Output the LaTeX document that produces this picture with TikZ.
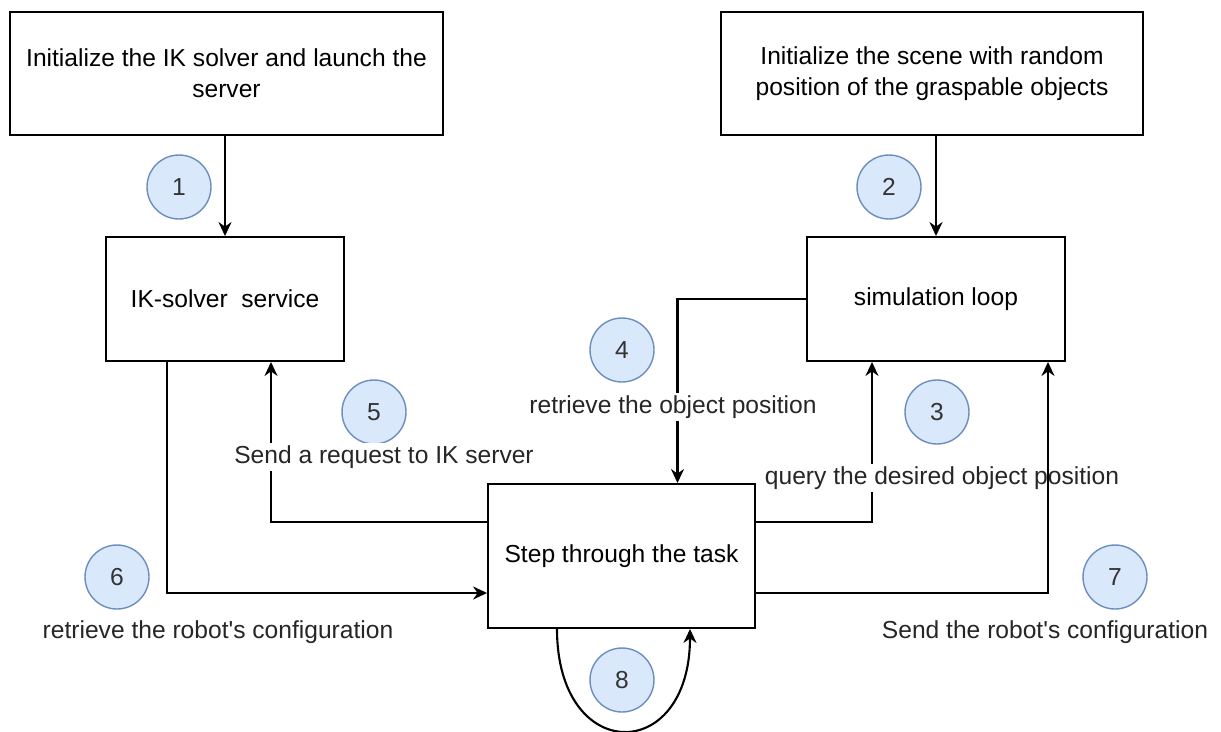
\documentclass[tikz,border=0pt]{standalone}
\usepackage{fontspec}
\setmainfont{Liberation Sans}
\usetikzlibrary{calc,positioning,arrows.meta}

\definecolor{badgefill}{HTML}{DAE8FC}
\definecolor{badgeline}{HTML}{6C8EBF}

\begin{document}
\begin{tikzpicture}[
  x=0.02cm, y=-0.02cm,
  line join=miter,
  >={Stealth[length=2.8mm,width=2.6mm]},
  box/.style={draw=black,line width=1.1pt,fill=white,align=center,
    font=\fontsize{14}{17.5}\selectfont},
  badge/.style={circle,draw=badgeline,fill=badgefill,line width=0.8pt,
    minimum size=1.28cm,inner sep=0pt,text=black!80,
    font=\fontsize{14}{17}\selectfont},
  lbl/.style={fill=white,inner sep=1.5pt,text=black!85,
    font=\fontsize{14}{17}\selectfont},
  flow/.style={draw=black,line width=1.2pt,->}
]
\useasboundingbox (0,0) rectangle (1221,731);

% Boxes
\node[box,minimum width=8.66cm,minimum height=2.46cm] (initik) at (226.5,73.5)
  {Initialize the IK solver and launch the\\server};
\node[box,minimum width=8.44cm,minimum height=2.46cm] (scene) at (932,73.5)
  {Initialize the scene with random\\position of the graspable objects};
\node[box,minimum width=4.76cm,minimum height=2.48cm] (iksrv) at (225,299)
  {IK-solver\ \ service};
\node[box,minimum width=5.16cm,minimum height=2.48cm] (sim) at (936,299)
  {simulation loop};
\node[box,minimum width=5.34cm,minimum height=2.88cm] (step) at (621.5,556)
  {Step through the task};

% Step badges
\foreach \n/\x/\y in {1/179/187,2/889/187,3/937/412,4/622/350,
                      5/374/412,6/117/577,7/1115/577,8/622/680}
  \node[badge] (b\n) at (\x,\y) {\n};

% Connectors
\draw[flow] (iksrv.north |- initik.south) -- (iksrv.north);
\draw[flow] (sim.north |- scene.south) -- (sim.north);
\draw[flow] (sim.west) -| ($(step.north)+(56,0)$);
\draw[flow] ($(step.east)+(0,-34)$) -| ($(sim.south)+(-64,0)$);
\draw[flow] ($(step.west)+(0,-34)$) -| ($(iksrv.south)+(46,0)$);
\draw[flow] ($(iksrv.south)+(-58,0)$) |- ($(step.west)+(0,37)$);
\draw[flow] ($(step.south)+(-64.5,0)$) .. controls +(0,136) and +(0,136) .. ($(step.south)+(68.5,0)$);

% Labels
\node[lbl] (getobj) at (673,407) {retrieve the object position};
\node[lbl] (query) at (942,478) {query the desired object position};
\node[lbl] (request) at (384,457) {Send a request to IK server};
\node[lbl] (getconf) at (218,632) {retrieve the robot\textquotesingle s configuration};
\node[lbl] (sendconf) at (1045,632) {Send the robot\textquotesingle s configuration};

\draw[flow] ($(step.east)+(0,37)$) -| ($(sim.south)+(112,0)$);

\end{tikzpicture}
\end{document}
